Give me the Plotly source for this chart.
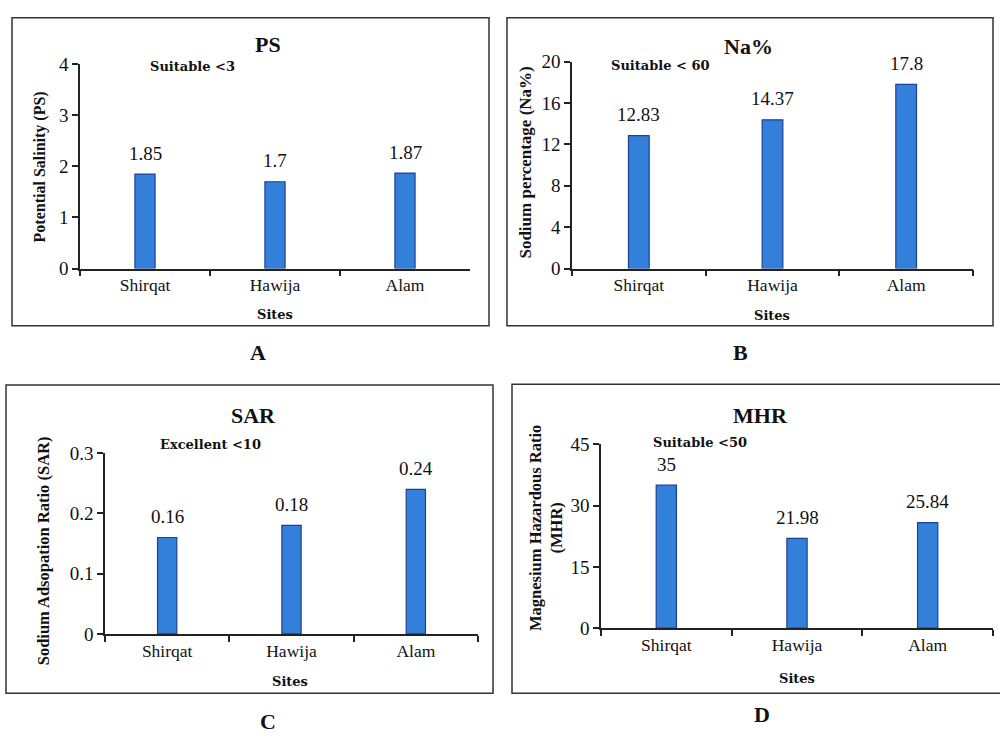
import plotly.graph_objects as go

sites = ["Shirqat", "Hawija", "Alam"]
ps_values = [1.85, 1.7, 1.87]
na_values = [12.83, 14.37, 17.8]
sar_values = [0.16, 0.18, 0.24]
mhr_values = [35, 21.98, 25.84]
ps_labels = ["1.85", "1.7", "1.87"]
na_labels = ["12.83", "14.37", "17.8"]
sar_labels = ["0.16", "0.18", "0.24"]
mhr_labels = ["35", "21.98", "25.84"]

W, H = 1000, 745
SERIF = "Liberation Serif"
NOTE_FONT = "DejaVu Serif"
BAR_FILL = "#3380DA"
BAR_LINE = "#1E3F96"

def px(x):
    return x / W

def py(y):
    return 1 - y / H

panels = [
    dict(name="1", vals=ps_values, labels=ps_labels, xd=(80, 470), yd=(266, 56), rng=[0, 4], dt=1,
         title="PS", tpos=(268, 36), note="Suitable <3", npos=(192, 58),
         ytitle="Potential Salinity (PS)", ytpos=(40, 162), ytsize=16,
         sites_pos=(275, 313), letter="A", lpos=(258, 352), box=(12, 8, 489, 325)),
    dict(name="2", vals=na_values, labels=na_labels, xd=(572, 973), yd=(266, 53), rng=[0, 20], dt=4,
         title="Na%", tpos=(748, 38), note="Suitable < 60", npos=(660, 57),
         ytitle="Sodium percentage (Na%)", ytpos=(526, 157), ytsize=17,
         sites_pos=(772, 314), letter="B", lpos=(740, 352), box=(507, 8, 993, 325)),
    dict(name="3", vals=sar_values, labels=sar_labels, xd=(105, 478), yd=(642, 456), rng=[0, 0.3], dt=0.1,
         title="SAR", tpos=(253, 417), note="Excellent <10", npos=(210, 447),
         ytitle="Sodium Adsopation Ratio (SAR)", ytpos=(43, 557), ytsize=16.5,
         sites_pos=(290, 691), letter="C", lpos=(268, 732), box=(6, 386, 493, 703)),
    dict(name="4", vals=mhr_values, labels=mhr_labels, xd=(601, 993), yd=(636, 447), rng=[0, 45], dt=15,
         title="MHR", tpos=(760, 417), note="Suitable <50", npos=(700, 445),
         ytitle="Magnesium Hazardous Ratio<br>(MHR)", ytpos=(546, 533), ytsize=16.5,
         sites_pos=(797, 688), letter="D", lpos=(762, 725), box=(512, 385, 1010, 703)),
]

fig = go.Figure()
annotations = []
shapes = []
layout_axes = {}

for p in panels:
    n = p["name"]
    xa = "x" if n == "1" else "x" + n
    ya = "y" if n == "1" else "y" + n
    fig.add_trace(go.Bar(
        x=sites, y=p["vals"], xaxis=xa, yaxis=ya, width=0.155,
        marker=dict(color=BAR_FILL, line=dict(color=BAR_LINE, width=1.2)),
        showlegend=False, hoverinfo="x+y",
    ))
    xkey = "xaxis" if n == "1" else "xaxis" + n
    ykey = "yaxis" if n == "1" else "yaxis" + n
    layout_axes[xkey] = dict(
        domain=[px(p["xd"][0]), px(p["xd"][1])], anchor=ya, type="category",
        range=[-0.5, 2.5], showline=True, linecolor="#222", linewidth=1.5,
        ticks="outside", tickson="boundaries", ticklen=6, tickcolor="#222", tickwidth=1.5,
        showgrid=False, zeroline=False,
        tickfont=dict(family=SERIF, size=17.5, color="#111"),
    )
    layout_axes[ykey] = dict(
        domain=[py(p["yd"][0]), py(p["yd"][1])], anchor=xa, range=p["rng"], dtick=p["dt"],
        tick0=0, showline=True, linecolor="#222", linewidth=1.5,
        ticks="outside", ticklen=6, tickcolor="#222", tickwidth=1.5,
        showgrid=False, zeroline=False,
        tickfont=dict(family=SERIF, size=19, color="#111"),
    )
    for s, v, lab in zip(sites, p["vals"], p["labels"]):
        annotations.append(dict(
            x=s, y=v, xref=xa, yref=ya, text=lab, showarrow=False,
            yanchor="middle", yshift=21,
            font=dict(family=SERIF, size=19, color="#111"),
        ))
    annotations.append(dict(x=px(p["tpos"][0]), y=py(p["tpos"][1]), xref="paper", yref="paper",
                            text="<b>%s</b>" % p["title"], showarrow=False,
                            xanchor="center", yanchor="middle",
                            font=dict(family=SERIF, size=22, color="#111")))
    annotations.append(dict(x=px(p["npos"][0]), y=py(p["npos"][1]), xref="paper", yref="paper",
                            text="<b>%s</b>" % p["note"], showarrow=False,
                            xanchor="center", yanchor="middle",
                            font=dict(family=NOTE_FONT, size=13, color="#111")))
    annotations.append(dict(x=px(p["ytpos"][0]), y=py(p["ytpos"][1]), xref="paper", yref="paper",
                            text="<b>%s</b>" % p["ytitle"], showarrow=False, textangle=-90,
                            xanchor="center", yanchor="middle",
                            font=dict(family=SERIF, size=p["ytsize"], color="#111")))
    annotations.append(dict(x=px(p["sites_pos"][0]), y=py(p["sites_pos"][1]), xref="paper", yref="paper",
                            text="<b>Sites</b>", showarrow=False,
                            xanchor="center", yanchor="middle",
                            font=dict(family=NOTE_FONT, size=13, color="#111")))
    annotations.append(dict(x=px(p["lpos"][0]), y=py(p["lpos"][1]), xref="paper", yref="paper",
                            text="<b>%s</b>" % p["letter"], showarrow=False,
                            xanchor="center", yanchor="middle",
                            font=dict(family=SERIF, size=22, color="#111")))
    x0, y0, x1, y1 = p["box"]
    shapes.append(dict(type="rect", xref="paper", yref="paper",
                       x0=px(x0), x1=px(x1), y0=py(y1), y1=py(y0),
                       line=dict(color="#333", width=1.5), fillcolor="rgba(0,0,0,0)"))

fig.update_layout(
    width=W, height=H, margin=dict(l=0, r=0, t=0, b=0),
    paper_bgcolor="white", plot_bgcolor="white",
    annotations=annotations, shapes=shapes, showlegend=False,
    **layout_axes,
)

fig.write_html(
    "out.html",
    config={"displayModeBar": False},
    post_script="document.body.style.margin='0';document.body.style.padding='0';"
                "document.documentElement.style.overflow='hidden';document.body.style.overflow='hidden';",
)
